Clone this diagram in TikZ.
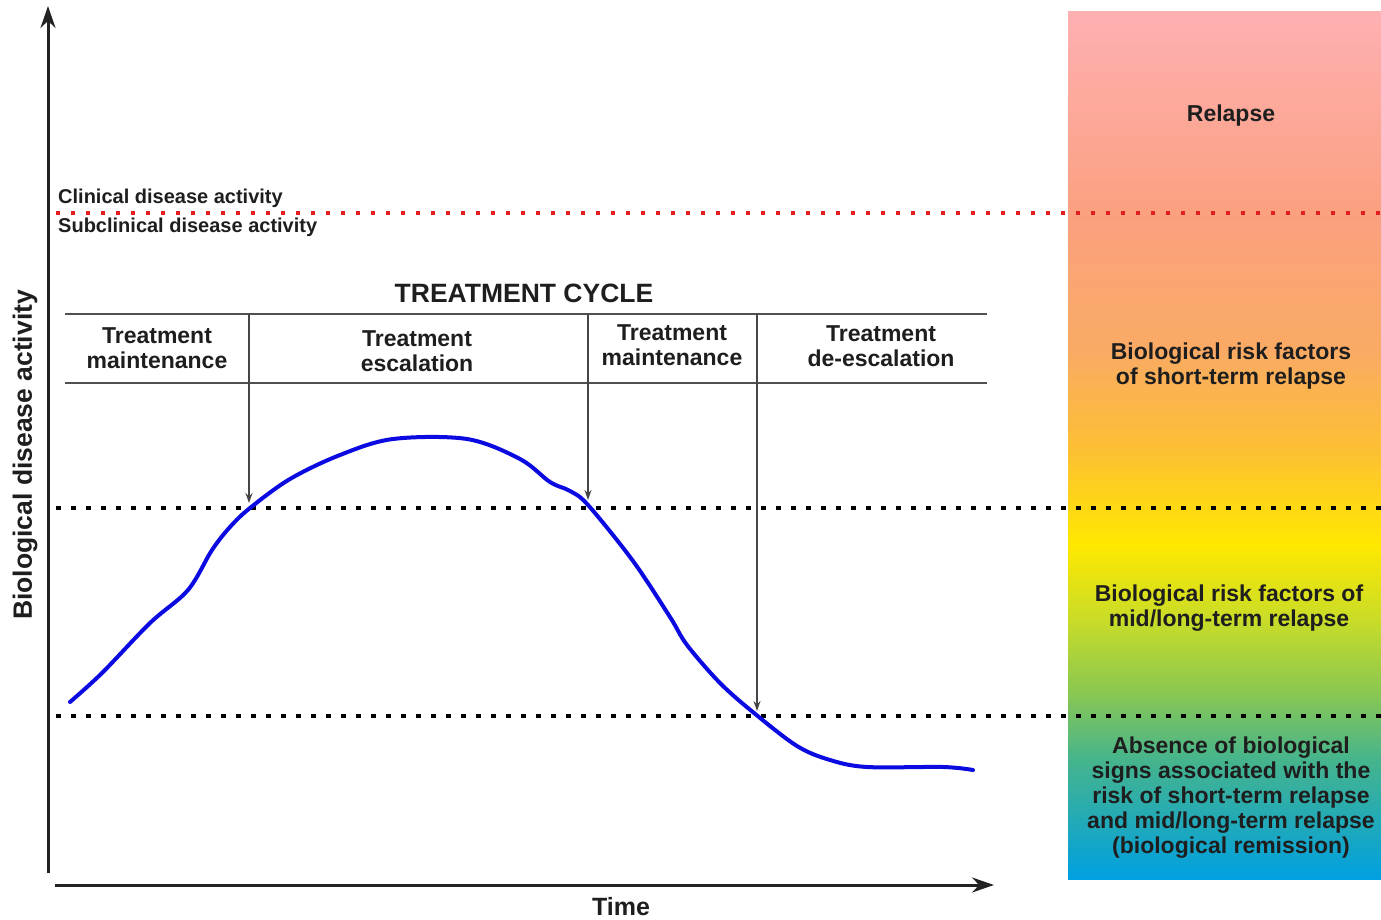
\documentclass[tikz,border=0pt]{standalone}
\usepackage{fontspec}
\setmainfont{Liberation Sans}
\usetikzlibrary{arrows.meta}
\definecolor{txt}{RGB}{30,30,30}
\definecolor{axisgray}{RGB}{35,35,35}
\definecolor{linegray}{RGB}{80,80,80}
\definecolor{ptgray}{RGB}{70,70,70}
\definecolor{dotred}{RGB}{228,30,30}
\definecolor{curveblue}{RGB}{10,10,225}
\definecolor{gPink}{RGB}{254,176,178}
\definecolor{gSalmon}{RGB}{251,160,128}
\definecolor{gOrange}{RGB}{250,170,100}
\definecolor{gAmber}{RGB}{252,192,50}
\definecolor{gYellow}{RGB}{255,232,0}
\definecolor{gLime}{RGB}{200,220,40}
\definecolor{gGreen}{RGB}{140,200,80}
\definecolor{gTeal}{RGB}{70,180,140}
\definecolor{gBlue}{RGB}{0,160,225}
\pgfdeclareverticalshading{boxgrad}{100bp}{%
  color(0bp)=(gBlue); color(25bp)=(gBlue); color(31.9bp)=(gTeal);
  color(35.9bp)=(gGreen); color(39.9bp)=(gLime); color(44.3bp)=(gYellow);
  color(49.7bp)=(gAmber); color(55.5bp)=(gOrange); color(63.4bp)=(gSalmon);
  color(75bp)=(gPink); color(100bp)=(gPink)}
\tikzset{
  axisline/.style={line width=3pt, draw=axisgray, -{Stealth[length=22pt,width=15pt]}},
  blackdots/.style={line width=4.5pt, line cap=butt, dash pattern=on 4.5pt off 10.5pt, draw=black},
  reddots/.style={line width=4pt, line cap=butt, dash pattern=on 4pt off 11pt, draw=dotred},
  tline/.style={line width=2pt, draw=linegray},
  pointer/.style={line width=1.3pt, draw=ptgray, -{Stealth[length=10pt,width=7pt]}},
  bluecurve/.style={line width=4pt, draw=curveblue, line cap=round, line join=round},
  celltext/.style={font=\fontsize{23}{25}\selectfont\bfseries, text=txt, align=center, inner sep=0pt},
  smalltext/.style={font=\fontsize{20}{22}\selectfont\bfseries, text=txt, anchor=west, inner sep=0pt},
  bigtext/.style={font=\fontsize{26.5}{28}\selectfont\bfseries, text=txt, inner sep=0pt},
}
\begin{document}
\begin{tikzpicture}[x=1pt,y=-1pt]
\useasboundingbox (0,0) rectangle (1381,920);
% gradient column
\shade[shading=boxgrad] (1068,12) rectangle (1381,879);
% axes
\coordinate (yb) at (48,873);
\coordinate (yt) at (48,6);
\coordinate (xl) at (55,885);
\coordinate (xr) at (994,885);
\draw[axisline] (yb) -- (yt);
\draw[axisline] (xl) -- (xr);
\node[font=\fontsize{25}{27}\selectfont\bfseries, text=txt, inner sep=0pt] (time) at (621,907) {Time};
\node[bigtext, rotate=90] (ylab) at (25,455) {Biological disease activity};
% threshold lines
\coordinate (r1) at (56,213); \coordinate (r2) at (1381,213);
\draw[reddots] (r1) -- (r2);
\coordinate (b1) at (56,508); \coordinate (b2) at (1381,508);
\draw[blackdots] (b1) -- (b2);
\coordinate (c1) at (56,716); \coordinate (c2) at (1381,716);
\draw[blackdots] (c1) -- (c2);
\node[smalltext] (clin) at (58,198) {Clinical disease activity};
\node[smalltext] (subclin) at (58,227) {Subclinical disease activity};
% treatment cycle table
\node[bigtext] (tc) at (524,293) {TREATMENT CYCLE};
\coordinate (tl) at (65,314); \coordinate (tr) at (987,314);
\coordinate (bl) at (65,383); \coordinate (br) at (987,383);
\draw[tline] (tl) -- (tr);
\draw[tline] (bl) -- (br);
\node[celltext] (m1) at (157,348) {Treatment\\maintenance};
\node[celltext] (esc) at (417,351) {Treatment\\escalation};
\node[celltext] (m2) at (672,345) {Treatment\\maintenance};
\node[celltext] (desc) at (881,346) {Treatment\\de-escalation};
% curve
\coordinate (p1) at (249,503);
\coordinate (p2) at (588,500);
\coordinate (p3) at (757,711);
\draw[bluecurve] plot[smooth, tension=0.55] coordinates {
 (70,702) (102,673) (150,623) (188,590) (212,550) (230,527) (250,508)
 (290,479) (340,455) (393,439) (467,439) (520,459) (550,482) (570,491)
 (588,505) (633,561) (670,617) (687,645) (720,683) (754,713) (797,746)
 (830,760) (867,767) (943,767) (973,770)};
% pointers
\coordinate (d1) at (249,314);
\coordinate (d2) at (588,314);
\coordinate (d3) at (757,314);
\draw[pointer] (d1) -- (p1);
\draw[pointer] (d2) -- (p2);
\draw[pointer] (d3) -- (p3);
% box texts
\node[celltext] (relapse) at (1231,116) {Relapse};
\node[celltext] (short) at (1231,366) {Biological risk factors\\of short-term relapse};
\node[celltext] (mid) at (1229,608) {Biological risk factors of\\mid/long-term relapse};
\node[celltext] (absence) at (1231,798) {Absence of biological\\signs associated with the\\risk of short-term relapse\\and mid/long-term relapse\\(biological remission)};
\end{tikzpicture}
\end{document}
